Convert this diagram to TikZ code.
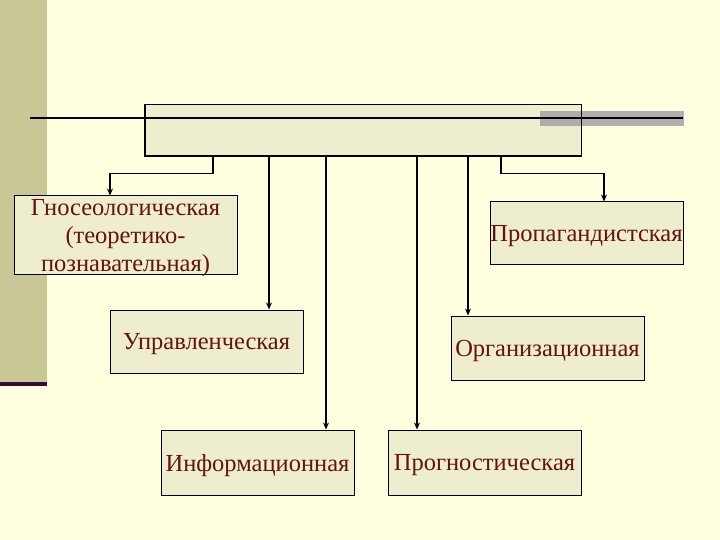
\documentclass[tikz,border=0pt]{standalone}
\usepackage{fontspec}
\setmainfont{Liberation Serif}
\usetikzlibrary{arrows.meta}
\definecolor{bg}{RGB}{255,255,224}
\definecolor{barc}{RGB}{200,200,150}
\definecolor{barline}{RGB}{50,15,50}
\definecolor{boxfill}{RGB}{238,238,206}
\definecolor{txt}{RGB}{100,18,18}
\definecolor{grayband}{RGB}{168,160,168}
\tikzset{
  box/.style={draw=black, line width=1pt, fill=boxfill, inner sep=0pt, align=center,
    font=\fontsize{24.5}{28}\selectfont, text=txt, text depth=0pt},
  conn/.style={line width=1.8pt, -{Stealth[length=7pt,width=6pt]}},
  elbow/.style={line width=1.1pt, -{Stealth[length=7pt,width=6pt]}}
}
\begin{document}
\begin{tikzpicture}[x=1pt,y=-1pt]
\useasboundingbox (0,0) rectangle (720,540);
\fill[bg] (0,0) rectangle (720,540);
\fill[barc] (0,0) rectangle (47,382);
\fill[barline] (0,382) rectangle (47,386);
% top box
\node[box, minimum width=436pt, minimum height=51pt] (top) at (363,130.5) {};
\fill[grayband, opacity=0.85] (540,111) rectangle (684,126);
\draw[line width=1.6pt] (30,118) -- (683,118);
\draw[line width=1pt] (top.south west) rectangle (top.north east);
% boxes
\node[box, minimum width=223pt, minimum height=78pt] (gnos) at (125.5,235)
  {Гносеологическая\\(теоретико-\\познавательная)};
\node[box, minimum width=193pt, minimum height=62pt] (prop) at (586.5,233) {Пропагандистская};
\node[box, minimum width=193pt, minimum height=63pt] (upr) at (206.5,341.5) {Управленческая};
\node[box, minimum width=193pt, minimum height=64pt] (org) at (547.5,348) {Организационная};
\node[box, minimum width=193pt, minimum height=65pt] (inf) at (257.5,462.5) {Информационная};
\node[box, minimum width=193pt, minimum height=65pt] (prog) at (484.5,462.5) {Прогностическая};
% connector x positions
\coordinate (xa) at (213,0);
\coordinate (xb) at (110,0);
\coordinate (xu) at (269,0);
\coordinate (xi) at (326,0);
\coordinate (xp) at (417,0);
\coordinate (xo) at (468,0);
\coordinate (xc) at (501,0);
\coordinate (xd) at (604,0);
\draw[elbow] (top.south -| xa) -- ++(0,17) -| (gnos.north -| xb);
\draw[elbow] (top.south -| xc) -- ++(0,17) -| (prop.north -| xd);
\draw[conn] (top.south -| xu) -- (upr.north -| xu);
\draw[conn] (top.south -| xi) -- (inf.north -| xi);
\draw[conn] (top.south -| xp) -- (prog.north -| xp);
\draw[conn] (top.south -| xo) -- (org.north -| xo);
\end{tikzpicture}
\end{document}
